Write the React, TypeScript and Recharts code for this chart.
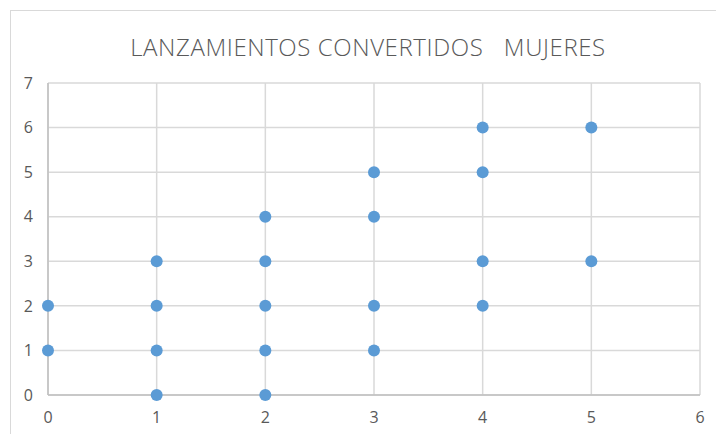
import React from 'react';
import { ScatterChart, Scatter, XAxis, YAxis, CartesianGrid } from 'recharts';

// shots (x) vs converted (y)
const shotsX = [0, 0, 1, 1, 1, 1, 2, 2, 2, 2, 2, 3, 3, 3, 3, 4, 4, 4, 4, 5, 5];
const goalsY = [1, 2, 0, 1, 2, 3, 0, 1, 2, 3, 4, 1, 2, 4, 5, 2, 3, 5, 6, 3, 6];
const xTicks = [0, 1, 2, 3, 4, 5, 6];
const yTicks = [0, 1, 2, 3, 4, 5, 6, 7];

const points = shotsX.map((x, i) => ({ x, y: goalsY[i] }));

const font = '"Open Sans", "Liberation Sans", sans-serif';

const Dot = (props: any) => {
    const { cx, cy } = props;
    return <circle cx={cx} cy={cy} r={6} fill="#5B9BD5" />;
};

export default function App() {
    return (
        <div style={{ position: 'absolute', left: 0, top: 0, width: 716, height: 434, overflow: 'hidden', background: '#fff', fontFamily: font }}>
            <div style={{ position: 'absolute', left: 10, top: 10, width: 720, height: 440, border: '1px solid #d9d9d9', boxSizing: 'border-box' }} />
            <div style={{ position: 'absolute', left: 0, top: 30, width: 736, textAlign: 'center', fontSize: 24, fontWeight: 300, color: '#595959', letterSpacing: 0.6 }}>
                LANZAMIENTOS CONVERTIDOS&nbsp;&nbsp; MUJERES
            </div>
            <div style={{ position: 'absolute', left: 0, top: 0 }}>
                <ScatterChart width={716} height={434} margin={{ top: 83, right: 16, bottom: 9, left: 0 }}>
                    <CartesianGrid stroke="#d9d9d9" strokeWidth={1.5} />
                    <XAxis
                        type="number"
                        dataKey="x"
                        domain={[0, 6]}
                        ticks={xTicks}
                        height={30}
                        axisLine={{ stroke: '#bfbfbf', strokeWidth: 1.5 }}
                        tickLine={false}
                        tickSize={6}
                        tickMargin={11}
                        tick={{ fill: '#595959', fontSize: 16, fontFamily: font }}
                    />
                    <YAxis
                        type="number"
                        dataKey="y"
                        domain={[0, 7]}
                        ticks={yTicks}
                        width={48}
                        axisLine={{ stroke: '#bfbfbf', strokeWidth: 1.5 }}
                        tickLine={false}
                        tickSize={6}
                        tickMargin={9}
                        tick={{ fill: '#595959', fontSize: 16, fontFamily: font }}
                    />
                    <Scatter data={points} shape={<Dot />} isAnimationActive={false} />
                </ScatterChart>
            </div>
        </div>
    );
}
